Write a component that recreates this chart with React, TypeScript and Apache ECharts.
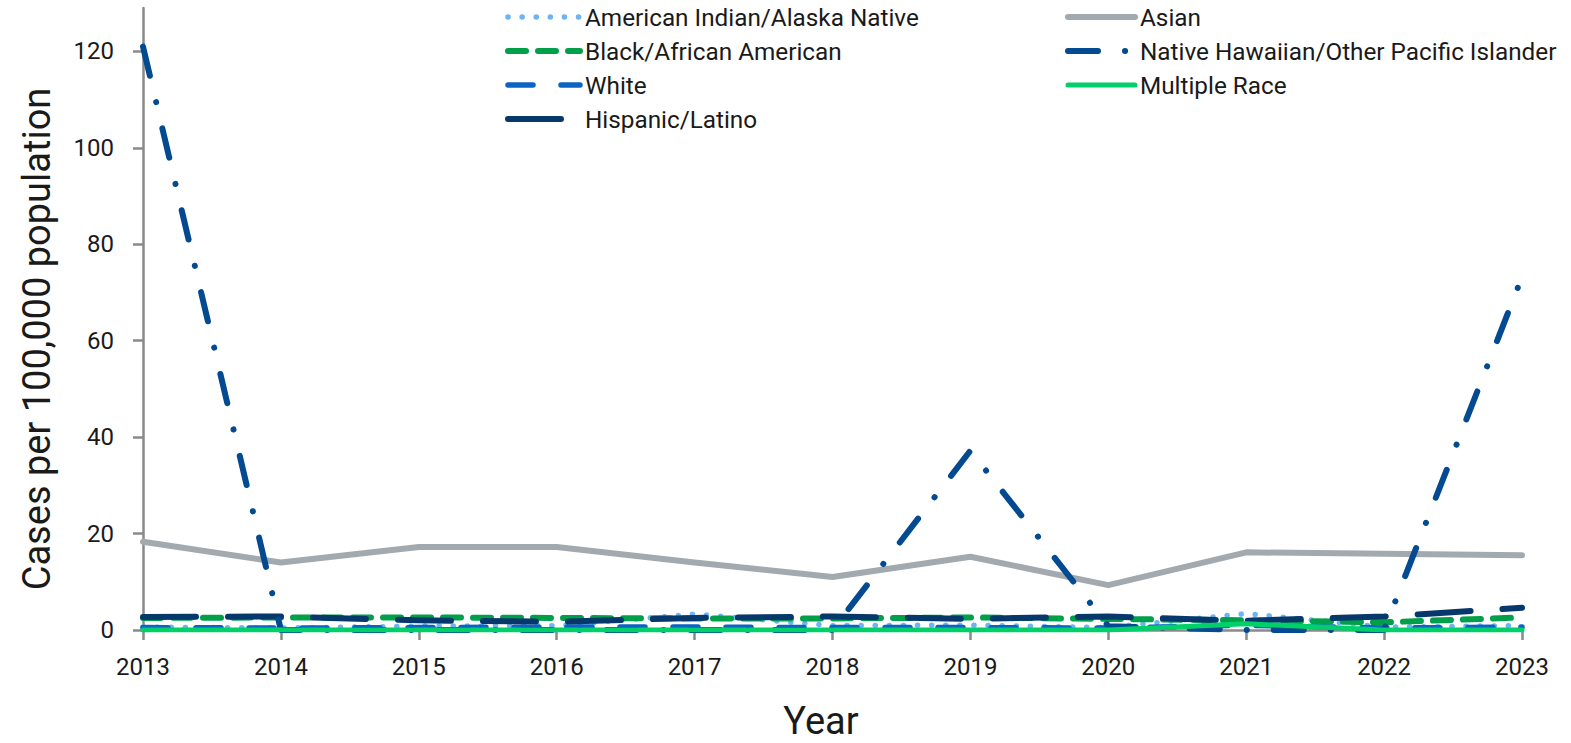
import React, { useEffect, useRef } from "react";
import * as echarts from "echarts";

const years = ["2013", "2014", "2015", "2016", "2017", "2018", "2019", "2020", "2021", "2022", "2023"];
const yTicks = [0, 20, 40, 60, 80, 100, 120];

const aian = [0.6, 0.4, 0.8, 0.9, 3.3, 0.9, 1.0, 0.5, 3.4, 0.6, 0.9];
const asian = [18.3, 14.0, 17.2, 17.2, 14.0, 11.0, 15.2, 9.3, 16.1, 15.8, 15.5];
const black = [2.5, 2.6, 2.6, 2.5, 2.4, 2.4, 2.6, 2.3, 2.0, 1.6, 2.6];
const nhopi = [121, 0, 0, 0, 0, 0, 37.2, 0.8, 0, 0, 73.2];
const white = [0.5, 0.4, 0.5, 0.6, 0.6, 0.5, 0.5, 0.4, 1.0, 0.4, 0.6];
const multiple = [0, 0, 0, 0, 0, 0, 0, 0, 1.3, 0, 0];
const hispanic = [2.7, 2.8, 2.0, 1.7, 2.5, 2.8, 2.3, 2.8, 1.9, 2.8, 4.6];

const FONT = "Roboto, 'Liberation Sans', Arial, sans-serif";

type Def = { name: string; data: number[]; color: string; width: number; dash: number[] | "solid"; z: number };

const defs: Def[] = [
  { name: "Asian", data: asian, color: "#A2AAAF", width: 6, dash: "solid", z: 1 },
  { name: "American Indian/Alaska Native", data: aian, color: "#6EB4F2", width: 5.5, dash: [0.1, 14], z: 2 },
  { name: "White", data: white, color: "#0B63C4", width: 5.5, dash: [25, 28], z: 3 },
  { name: "Black/African American", data: black, color: "#00A04B", width: 6, dash: [18, 12], z: 4 },
  { name: "Hispanic/Latino", data: hispanic, color: "#07386C", width: 6, dash: [53, 32], z: 5 },
  { name: "Native Hawaiian/Other Pacific Islander", data: nhopi, color: "#034A90", width: 6, dash: [30, 27, 0.1, 27], z: 6 },
  { name: "Multiple Race", data: multiple, color: "#00D06A", width: 5, dash: "solid", z: 7 },
];

const leftLegend = ["American Indian/Alaska Native", "Black/African American", "White", "Hispanic/Latino"];
const rightLegend = ["Asian", "Native Hawaiian/Other Pacific Islander", "Multiple Race"];

function legendItems(names: string[]) {
  return names.map((n) => {
    const d = defs.find((x) => x.name === n)!;
    return {
      name: n,
      itemStyle: { opacity: 0 },
      lineStyle: { width: d.width, type: d.dash, cap: "round", color: d.color },
    };
  });
}

export default function App() {
  const ref = useRef<HTMLDivElement>(null);
  useEffect(() => {
    document.body.style.margin = "0";
    const chart = echarts.init(ref.current!, null, { renderer: "svg" });
    const legendCommon = {
      orient: "vertical",
      top: 4,
      padding: 0,
      itemHeight: 14,
      itemGap: 8,
      textStyle: { fontFamily: FONT, fontSize: 24.3, color: "#1a1a1a", lineHeight: 26 },
    };
    const option: any = {
      animation: false,
      backgroundColor: "#ffffff",
      grid: { left: 143, right: 49, top: 8, bottom: 113, outerBoundsMode: "none", containLabel: false },
      legend: [
        { ...legendCommon, left: 505, itemWidth: 72, data: legendItems(leftLegend) },
        { ...legendCommon, left: 1065, itemWidth: 67, data: legendItems(rightLegend) },
      ],
      xAxis: {
        type: "category",
        data: years,
        boundaryGap: false,
        axisLine: { lineStyle: { color: "#8a8a8a", width: 2.5 } },
        axisTick: { show: true, length: 10, lineStyle: { color: "#8a8a8a", width: 2.5 } },
        axisLabel: { fontFamily: FONT, fontSize: 24, color: "#1a1a1a", margin: 25 },
        splitLine: { show: false },
      },
      yAxis: {
        type: "value",
        min: 0,
        max: 129,
        interval: 20,
        axisLine: { show: true, lineStyle: { color: "#8a8a8a", width: 2.5 } },
        axisTick: { show: true, length: 10, customValues: yTicks, lineStyle: { color: "#8a8a8a", width: 2.5 } },
        axisLabel: { fontFamily: FONT, fontSize: 24, color: "#1a1a1a", margin: 29, customValues: yTicks },
        splitLine: { show: false },
      },
      graphic: [
        {
          type: "text",
          x: 37,
          y: 339,
          rotation: Math.PI / 2,
          style: {
            text: "Cases per 100,000 population",
            fontFamily: FONT,
            fontSize: 38,
            fill: "#1a1a1a",
            align: "center",
            verticalAlign: "middle",
          },
        },
        {
          type: "text",
          x: 821,
          y: 721,
          style: {
            text: "Year",
            fontFamily: FONT,
            fontSize: 38,
            fill: "#1a1a1a",
            align: "center",
            verticalAlign: "middle",
          },
        },
      ],
      series: defs.map((d) => ({
        name: d.name,
        type: "line",
        data: d.data,
        symbol: "none",
        z: d.z,
        color: d.color,
        lineStyle: { color: d.color, width: d.width, type: d.dash, cap: "round", join: "round" },
      })),
    };
    chart.setOption(option);
    return () => chart.dispose();
  }, []);
  return <div ref={ref} style={{ width: 1571, height: 743 }} />;
}
